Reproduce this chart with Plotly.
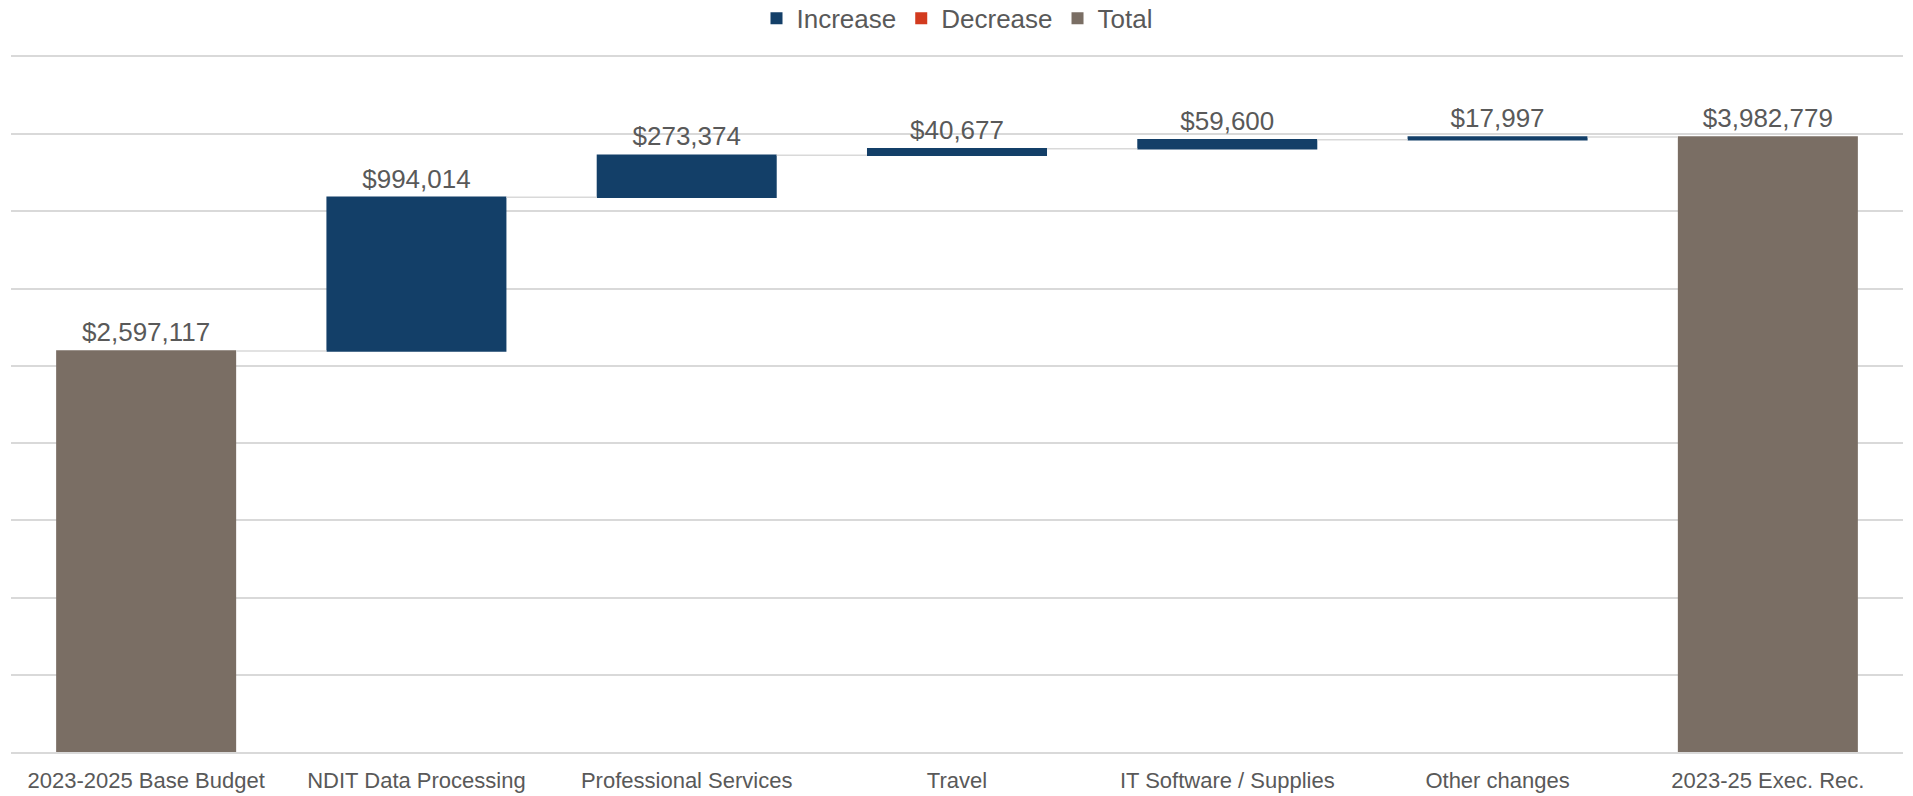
"""Waterfall chart: 2023-25 budget changes"""

import plotly.graph_objects as go

categories = [
    "2023-2025 Base Budget",
    "NDIT Data Processing",
    "Professional Services",
    "Travel",
    "IT Software / Supplies",
    "Other changes",
    "2023-25 Exec. Rec.",
]
measures = ["absolute", "relative", "relative", "relative", "relative", "relative", "total"]
amounts = [2597117, 994014, 273374, 40677, 59600, 17997, 0]
legend_names = ["Increase", "Decrease", "Total"]

COLORS = {
    "Increase": "#133f68",
    "Decrease": "#d23a1e",
    "Total": "#7a6e64",
}
TEXT_GRAY = "#595959"
GRID_GRAY = "#d9d9d9"

final_total = sum(amounts[:-1])
labels = ["${:,}".format(v) for v in amounts[:-1]] + ["${:,}".format(final_total)]

fig = go.Figure()

fig.add_trace(go.Waterfall(
    x=categories,
    y=amounts,
    measure=measures,
    text=labels,
    textposition="outside",
    textfont=dict(size=26, color=TEXT_GRAY),
    increasing=dict(marker=dict(color=COLORS["Increase"])),
    decreasing=dict(marker=dict(color=COLORS["Decrease"])),
    totals=dict(marker=dict(color=COLORS["Total"])),
    connector=dict(line=dict(color=GRID_GRAY, width=1.5)),
    showlegend=False,
    cliponaxis=False,
    hoverinfo="skip",
))

# legend-only entries
for name in legend_names:
    fig.add_trace(go.Scatter(
        x=[None], y=[None],
        mode="markers",
        name=name,
        marker=dict(symbol="square", size=16, color=COLORS[name]),
    ))

fig.update_layout(
    width=1913,
    height=796,
    plot_bgcolor="white",
    paper_bgcolor="white",
    font=dict(family="Liberation Sans, Arial, sans-serif", color=TEXT_GRAY),
    margin=dict(l=11, r=10, t=57, b=44, autoexpand=False),
    waterfallgap=0.334,
    legend=dict(
        orientation="h",
        x=0.5, xanchor="center",
        yref="container", y=0.977, yanchor="middle",
        font=dict(size=26, color=TEXT_GRAY),
        itemsizing="constant",
    ),
    xaxis=dict(
        type="category",
        automargin=False,
        showgrid=False,
        tickfont=dict(size=22, color=TEXT_GRAY),
        ticklabelstandoff=8,
        # top and bottom gridlines at the plot edges
        showline=True,
        mirror=True,
        linecolor=GRID_GRAY,
        linewidth=1.5,
    ),
    yaxis=dict(
        range=[0, 4500000],
        automargin=False,
        dtick=500000,
        showticklabels=False,
        gridcolor=GRID_GRAY,
        gridwidth=1.5,
        zeroline=False,
    ),
)

# drop the default page margin so the figure sits at the window origin
fig.write_html(
    "out.html",
    config={"displayModeBar": False},
    post_script="document.body.style.margin='0';",
)
